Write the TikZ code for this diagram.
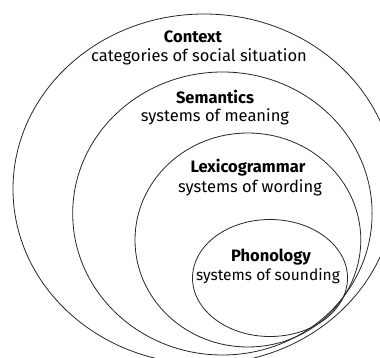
\documentclass[tikz,border=0pt]{standalone}
\usepackage{fontspec}
\setmainfont{Fira Sans}
\begin{document}
\begin{tikzpicture}[x=1pt,y=-1pt,
  ring/.style={draw=black!85, line width=0.8pt},
  title/.style={font=\fontsize{16.5}{18}\selectfont\bfseries, inner sep=0pt, text=black},
  sub/.style={font=\fontsize{16.5}{18}\selectfont, inner sep=0pt, text=black},
  subsmall/.style={font=\fontsize{15.5}{17}\selectfont, inner sep=0pt, text=black}]
\useasboundingbox (0,0) rectangle (380,358);
\clip (0,0) rectangle (380,358);
\draw[ring] (204,189) ellipse [x radius=191pt, y radius=175pt];
\draw[ring] (222.4,213.5) ellipse [x radius=149.7pt, y radius=141.5pt];
\draw[ring] (247.9,240) ellipse [x radius=112.9pt, y radius=107pt];
\draw[ring] (270,278) ellipse [x radius=77.5pt, y radius=58.5pt];
\node[title] (ctx) at (193,37) {Context};
\node[sub] (ctxs) at (199,57) {categories of social situation};
\node[title] (sem) at (215,97) {Semantics};
\node[sub] (sems) at (215,117) {systems of meaning};
\node[title] (lex) at (248,168) {Lexicogrammar};
\node[sub] (lexs) at (250,188) {systems of wording};
\node[title] (pho) at (271,257) {Phonology};
\node[subsmall] (phos) at (268,276) {systems of sounding};
\end{tikzpicture}
\end{document}
